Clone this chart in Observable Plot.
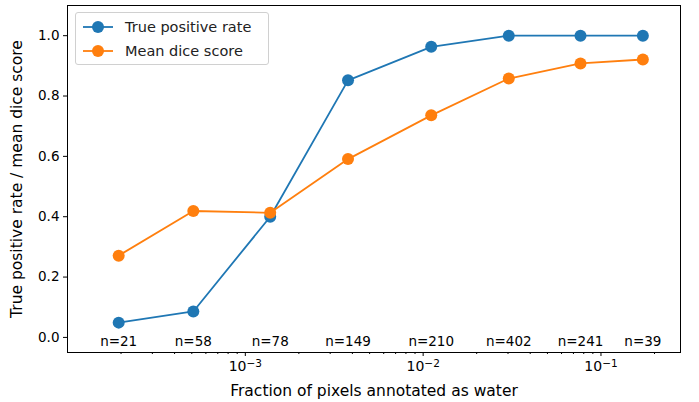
<!DOCTYPE html>
<html><head><meta charset="utf-8">
<script src="https://cdn.jsdelivr.net/npm/d3@7"></script>
<script src="https://cdn.jsdelivr.net/npm/@observablehq/plot@0.6"></script>
<style>
body{margin:0;background:#fff;font-family:"DejaVu Sans",sans-serif;}
#wrap{position:relative;width:699px;height:402px;}
#legend{position:absolute;left:75px;top:12px;width:192px;height:51px;border:1px solid #d0d0d0;border-radius:3px;background:rgba(255,255,255,0.8);font-size:14.5px;color:#222;}
</style></head>
<body><div id="wrap"><div id="legend"></div></div>
<script>
const fraction = [1.94e-4, 5.1e-4, 1.38e-3, 3.78e-3, 0.0111, 0.0303, 0.0767, 0.172];
const tpr = [0.049, 0.086, 0.40, 0.852, 0.963, 1.0, 1.0, 1.0];
const dice = [0.271, 0.419, 0.413, 0.591, 0.736, 0.858, 0.908, 0.921];
const counts = [21, 58, 78, 149, 210, 402, 241, 39];
const seriesNames = ["True positive rate", "Mean dice score"];
const colors = ["#1f77b4", "#ff7f0e"];
const xLabel = "Fraction of pixels annotated as water";
const yLabel = "True positive rate / mean dice score";
const xMajor = [1e-3, 1e-2, 1e-1];
const yTicks = [0, 0.2, 0.4, 0.6, 0.8, 1.0];

const rowsT = fraction.map((x,i)=>({x, y: tpr[i]}));
const rowsD = fraction.map((x,i)=>({x, y: dice[i]}));
const rowsN = fraction.map((x,i)=>({x, n: "n=" + counts[i]}));

const minor = [];
for (let e=-4; e<=-1; e++) for (let m=2; m<=9; m++) { const v = m*Math.pow(10,e); if (v>1e-4 && v<0.28) minor.push(v); }

const chart = Plot.plot({
  width: 699, height: 402,
  marginLeft: 67, marginRight: 19, marginTop: 5, marginBottom: 50,
  style: {fontFamily: "DejaVu Sans, sans-serif", color: "#000", background: "#fff"},
  x: {type: "log", domain: [1.0e-4, 0.28]},
  y: {domain: [-0.05, 1.1]},
  marks: [
    Plot.frame({stroke: "#000", strokeWidth: 1}),
    Plot.axisX({ticks: minor, tickSize: 2, tickFormat: () => "", label: null}),
    Plot.axisX({ticks: xMajor, tickSize: 4, tickFormat: d => "E" + Math.round(Math.log10(d)), fontSize: 14, tickPadding: 5, label: null}),
    Plot.axisY({ticks: yTicks, tickSize: 4, tickFormat: d3.format(".1f"), fontSize: 13.5, tickPadding: 4, label: null}),
    Plot.text([xLabel], {frameAnchor: "bottom", dy: 39, fontSize: 15.5, fill: "#000", lineAnchor: "middle"}),
    Plot.text([yLabel], {frameAnchor: "left", dx: -50, rotate: -90, textAnchor: "middle", fontSize: 15.5, fill: "#000", lineAnchor: "middle"}),
    Plot.line(rowsT, {x: "x", y: "y", stroke: colors[0], strokeWidth: 1.8}),
    Plot.dot(rowsT, {x: "x", y: "y", fill: colors[0], r: 6}),
    Plot.line(rowsD, {x: "x", y: "y", stroke: colors[1], strokeWidth: 1.8}),
    Plot.dot(rowsD, {x: "x", y: "y", fill: colors[1], r: 6}),
    Plot.text(rowsN, {x: "x", y: () => 0, text: "n", fontSize: 13.5, dy: 4, fill: "#000"})
  ]
});
// render powers of ten with superscript exponents
d3.select(chart).selectAll("text").each(function(){
  const t = this.textContent;
  if (/^E-?\d+$/.test(t)) {
    const exp = t.slice(1).replace("-", "\u2212");
    const sel = d3.select(this);
    sel.text(null);
    sel.append("tspan").text("10");
    sel.append("tspan").attr("dy", "-0.45em").attr("font-size", "0.75em").text(exp);
  }
});
chart.style.position = "absolute"; chart.style.left = "0"; chart.style.top = "0";
const wrap = document.getElementById("wrap");
wrap.insertBefore(chart, wrap.firstChild);

const lg = document.getElementById("legend");
lg.innerHTML = seriesNames.map((s,i)=>`<div style="position:absolute;left:6px;top:${4+i*24}px;height:20px;display:flex;align-items:center;white-space:nowrap">
<svg width="32" height="14" style="margin-right:11px"><line x1="1" x2="31" y1="7" y2="7" stroke="${colors[i]}" stroke-width="1.8"/><circle cx="16" cy="7" r="6" fill="${colors[i]}"/></svg>${s}</div>`).join("");
</script></body></html>
